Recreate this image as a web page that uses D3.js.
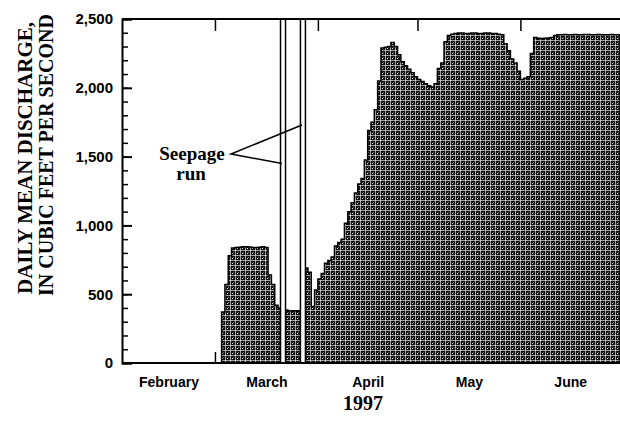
<!DOCTYPE html>
<html>
<head>
<meta charset="utf-8">
<script src="https://cdn.jsdelivr.net/npm/d3@7"></script>
<style>
  html, body { margin: 0; padding: 0; background: #fff; }
  svg { display: block; }
</style>
</head>
<body>
<svg id="chart" width="620" height="421"></svg>
<script>
// daily mean discharge, cubic feet per second, one value per day
var feb = [0, 0, 0, 0, 0, 0, 0, 0, 0, 0, 0, 0, 0, 0,
           0, 0, 0, 0, 0, 0, 0, 0, 0, 0, 0, 0, 0, 0];
var mar = [0, 0, 370, 570, 780, 835, 840, 842, 845, 845, 843, 840, 840, 842, 845, 840,
           640, 570, 420, 400, 390, 385, 380, 380, 380, 380, 680, 690, 660, 410, 530];
var apr = [610, 650, 725, 745, 770, 850, 875, 900, 1015, 1100, 1165, 1235, 1300, 1340, 1475,
           1690, 1750, 1840, 2050, 2290, 2295, 2300, 2330, 2300, 2240, 2190, 2160, 2135, 2110, 2080];
var may = [2060, 2045, 2030, 2015, 2005, 2030, 2140, 2180, 2335, 2380, 2390, 2395, 2398, 2398, 2395, 2395,
           2398, 2398, 2395, 2395, 2398, 2398, 2395, 2395, 2390, 2385, 2320, 2270, 2210, 2180, 2120];
var jun = [2060, 2070, 2080, 2250, 2365, 2360, 2358, 2360, 2362, 2365, 2380, 2385, 2385, 2388, 2385,
           2385, 2388, 2385, 2385, 2388, 2388, 2385, 2385, 2388, 2385, 2385, 2385, 2388, 2385, 2385];

var months = ["1997-02-01", "1997-03-01", "1997-04-01", "1997-05-01", "1997-06-01", "1997-07-01"];
var monthNames = ["February", "March", "April", "May", "June"];
var seepageRuns = ["1997-03-21T12:00", "1997-03-27T12:00"];
var yTicks = [0, 500, 1000, 1500, 2000, 2500];

var parse = d3.isoParse;
var svg = d3.select("#chart");
var pLeft = 122, pRight = 620, pTop = 19, pBottom = 363;

var start = parse(months[0]);
var flows = [].concat(feb, mar, apr, may, jun);
var data = flows.map(function(v, i) {
    return { date: d3.timeDay.offset(start, i), q: v };
});
// repeat last day so the step reaches the end of June
data.push({ date: parse(months[5]), q: flows[flows.length - 1] });

var x = d3.scaleTime()
    .domain([start, parse(months[5])])
    .range([pLeft, pRight]);
var y = d3.scaleLinear()
    .domain([0, 2500])
    .range([pBottom, pTop]);

// halftone-ish fill
var pat = svg.append("defs").append("pattern")
    .attr("id", "tone")
    .attr("width", 5).attr("height", 5)
    .attr("patternUnits", "userSpaceOnUse");
pat.append("rect").attr("width", 5).attr("height", 5).attr("fill", "#111");
pat.append("rect").attr("width", 5).attr("height", 1).attr("fill", "#fff").attr("opacity", 0.6);
pat.append("rect").attr("width", 1).attr("height", 5).attr("fill", "#fff").attr("opacity", 0.6);
pat.append("rect").attr("x", 2).attr("y", 3).attr("width", 1).attr("height", 1).attr("fill", "#eee");
pat.append("rect").attr("x", 3).attr("y", 2).attr("width", 1).attr("height", 1).attr("fill", "#666");

// month boundary ticks along the bottom (under the fill)
svg.append("g")
    .attr("transform", "translate(0," + pBottom + ")")
    .call(d3.axisBottom(x).tickValues(months.slice(1, 5).map(parse)).tickSize(-11).tickFormat(""))
    .call(function(g) { g.select(".domain").remove(); })
    .selectAll("line").attr("stroke", "#000").attr("stroke-width", 1.5);

var area = d3.area()
    .curve(d3.curveStepAfter)
    .x(function(d) { return x(d.date); })
    .y0(y(0))
    .y1(function(d) { return y(d.q); });

svg.append("path")
    .datum(data)
    .attr("d", area)
    .attr("fill", "url(#tone)")
    .attr("stroke", "#000")
    .attr("stroke-width", 1.5);

// seepage run markers
svg.selectAll("rect.seep")
    .data(seepageRuns)
    .enter().append("rect")
    .attr("class", "seep")
    .attr("x", function(d) { return x(parse(d)) - 2.5; })
    .attr("y", pTop)
    .attr("width", 5)
    .attr("height", pBottom - pTop)
    .attr("fill", "#fff")
    .attr("stroke", "#000")
    .attr("stroke-width", 1.5);

// frame: top line and bottom axis
svg.append("line").attr("x1", pLeft).attr("x2", pRight).attr("y1", pTop).attr("y2", pTop)
    .attr("stroke", "#000").attr("stroke-width", 2);
svg.append("line").attr("x1", pLeft).attr("x2", pRight).attr("y1", pBottom).attr("y2", pBottom)
    .attr("stroke", "#000").attr("stroke-width", 2);

// top month ticks
svg.append("g")
    .attr("transform", "translate(0," + pTop + ")")
    .call(d3.axisTop(x).tickValues(months.slice(1, 5).map(parse)).tickSize(-12).tickFormat(""))
    .call(function(g) { g.select(".domain").remove(); })
    .selectAll("line").attr("stroke", "#000").attr("stroke-width", 1.5);

// minor y ticks every 100
svg.append("g")
    .attr("transform", "translate(" + pLeft + ",0)")
    .call(d3.axisLeft(y).tickValues(d3.range(0, 2501, 100)).tickSize(-6).tickFormat(""))
    .call(function(g) { g.select(".domain").remove(); })
    .selectAll("line").attr("stroke", "#000").attr("stroke-width", 1.5);

var yAxis = svg.append("g")
    .attr("transform", "translate(" + pLeft + ",0)")
    .call(d3.axisLeft(y).tickValues(yTicks).tickSize(-10).tickPadding(9).tickFormat(d3.format(",")));
yAxis.select(".domain").attr("stroke", "#000").attr("stroke-width", 2);
yAxis.selectAll("line").attr("stroke", "#000").attr("stroke-width", 2);
yAxis.selectAll("text")
    .attr("font-family", "Liberation Sans, Arial, sans-serif")
    .attr("font-weight", "bold")
    .attr("font-size", 15)
    .attr("fill", "#000");

// month names centred in each month
var mids = monthNames.map(function(m, i) {
    var a = parse(months[i]), b = parse(months[i + 1]);
    return new Date((+a + +b) / 2);
});
var xAxis = svg.append("g")
    .attr("transform", "translate(0," + pBottom + ")")
    .call(d3.axisBottom(x).tickValues(mids).tickSize(0).tickPadding(14)
        .tickFormat(function(d, i) { return monthNames[i]; }));
xAxis.select(".domain").remove();
xAxis.selectAll("text")
    .attr("font-family", "Liberation Sans, Arial, sans-serif")
    .attr("font-weight", "bold")
    .attr("font-size", 14)
    .attr("fill", "#000");

svg.append("text")
    .attr("x", 363).attr("y", 410)
    .attr("text-anchor", "middle")
    .attr("font-family", "Liberation Serif, serif")
    .attr("font-weight", "bold")
    .attr("font-size", 20)
    .text("1997");

var title = svg.append("g")
    .attr("font-family", "Liberation Serif, serif")
    .attr("font-weight", "bold")
    .attr("text-anchor", "middle");
title.append("text")
    .attr("transform", "translate(32,158) rotate(-90)")
    .attr("font-size", 21)
    .text("DAILY MEAN DISCHARGE,");
title.append("text")
    .attr("transform", "translate(53,155) rotate(-90)")
    .attr("font-size", 20)
    .text("IN CUBIC FEET PER SECOND");

// annotation
var note = svg.append("g")
    .attr("font-family", "Liberation Serif, serif")
    .attr("font-weight", "bold")
    .attr("font-size", 19)
    .attr("text-anchor", "middle");
note.append("text").attr("x", 192).attr("y", 160).text("Seepage");
note.append("text").attr("x", 191).attr("y", 180).text("run");

svg.append("path")
    .attr("d", "M" + (x(parse(seepageRuns[1])) - 1) + "," + y(1730) +
               "L231,154L" + (x(parse(seepageRuns[0])) - 1) + "," + y(1450))
    .attr("fill", "none")
    .attr("stroke", "#000")
    .attr("stroke-width", 1.5);
</script>
</body>
</html>
